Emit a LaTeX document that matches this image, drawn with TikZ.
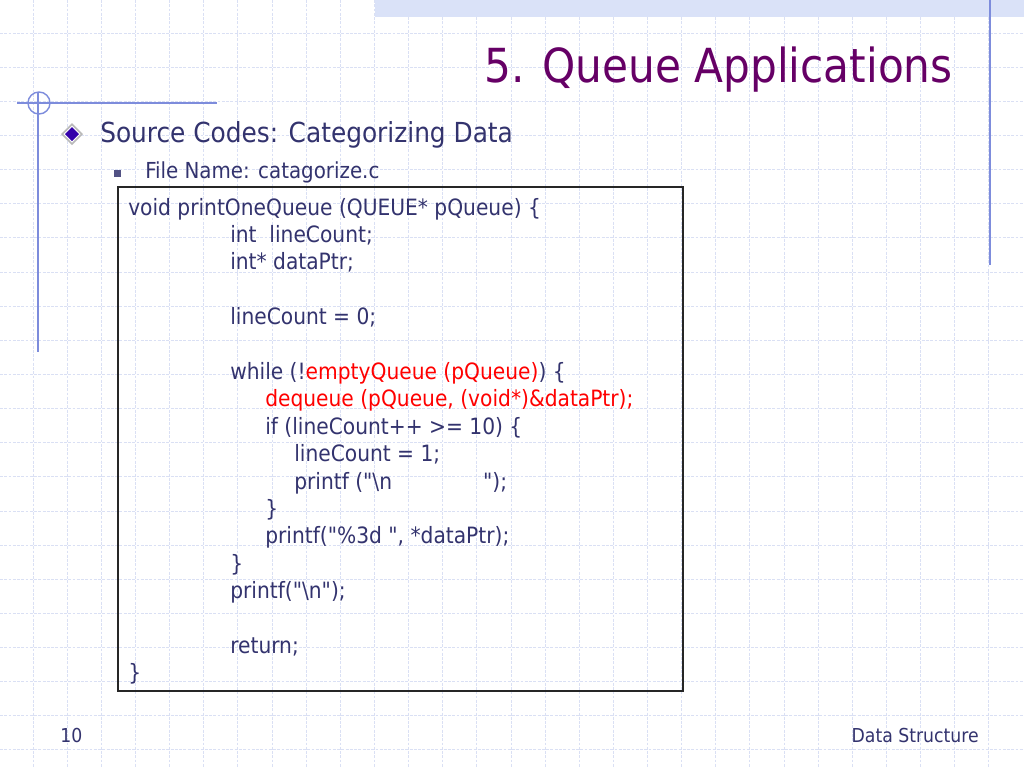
\documentclass[tikz,border=0pt]{standalone}
\usepackage{fontspec}
\setmainfont{DejaVu Sans Condensed}[Ligatures=TeXOff]
\definecolor{navy}{RGB}{51,51,110}
\definecolor{titlepurple}{RGB}{102,0,102}
\definecolor{gridblue}{RGB}{218,224,244}
\definecolor{barblue}{RGB}{218,226,248}
\definecolor{rulerblue}{RGB}{125,140,220}
\definecolor{diamondblue}{RGB}{51,0,170}
\newcommand{\dq}{\char34\relax}
\begin{document}
\begin{tikzpicture}[x=0.703pt, y=-0.703pt,
    every node/.style={inner sep=0pt, text=navy},
    code/.style={anchor=base west, font=\fontsize{15.8}{19}\selectfont},
    ruler/.style={draw=rulerblue, line width=1pt}]
    \useasboundingbox (0,0) rectangle (1024,768);
    \fill[white] (0,0) rectangle (1024,768);
    % grid
    \foreach \i in {1,...,29}
        \draw[gridblue, line width=0.6pt, dash pattern=on 2pt off 1pt] ({\i*34.13-1}, 0) -- ({\i*34.13-1}, 768);
    \foreach \j in {1,...,22}
        \draw[gridblue, line width=0.6pt, dash pattern=on 2pt off 1pt] (0, {\j*34.13-1}) -- (1024, {\j*34.13-1});
    % frame decoration
    \fill[barblue] (375, 0) rectangle (1024, 17);
    \draw[ruler] (990, 0) -- (990, 265);
    \draw[ruler] (17, 103) -- (217, 103);
    \draw[ruler] (38, 92) -- (38, 352);
    \draw[ruler] (39, 103) circle (11);
    % title and bullets
    \node[anchor=base east, text=titlepurple, font=\fontsize{33}{40}\selectfont] (title) at (953, 82) {5. Queue Applications};
    \fill[gray!55] (72, 123) -- (83, 134) -- (72, 145) -- (61, 134) -- cycle;
    \fill[white] (72, 125.5) -- (80.5, 134) -- (72, 142.5) -- (63.5, 134) -- cycle;
    \fill[diamondblue] (72, 127) -- (79, 134) -- (72, 141) -- (65, 134) -- cycle;
    \node[anchor=base west, font=\fontsize{19.4}{23}\selectfont] (topic) at (100, 142) {Source Codes: Categorizing Data};
    \fill[navy!85] (114, 170) rectangle (121, 177);
    \node[anchor=base west, font=\fontsize{15.5}{19}\selectfont] (file) at (145, 178) {File Name: catagorize.c};
    % code box
    \draw[black!85, line width=0.8pt] (118, 187) rectangle (683, 691);
    \node[code] (l0) at (128, 215) {void printOneQueue (QUEUE* pQueue) \{};
    \node[code] (l1) at (230, 242.4) {int\ \ lineCount;};
    \node[code] (l2) at (230, 269.8) {int* dataPtr;};
    \node[code] (l4) at (230, 324.6) {lineCount = 0;};
    \node[code] (l6) at (230, 379.4) {while (!\textcolor{red}{emptyQueue (pQueue)}) \{};
    \node[code, text=red] (l7) at (265, 406.8) {dequeue (pQueue, (void*)\&dataPtr);};
    \node[code] (l8) at (265, 434.2) {if (lineCount++ >= 10) \{};
    \node[code] (l9) at (294, 461.6) {lineCount = 1;};
    \node[code] (l10) at (294, 489) {printf (\dq\textbackslash n\hspace{64pt}\dq);};
    \node[code] (l11) at (265, 516.4) {\}};
    \node[code] (l12) at (265, 543.8) {printf(\dq\%3d \dq, *dataPtr);};
    \node[code] (l13) at (230, 571.2) {\}};
    \node[code] (l14) at (230, 598.6) {printf(\dq\textbackslash n\dq);};
    \node[code] (l16) at (230, 653.4) {return;};
    \node[code] (l17) at (128, 680.8) {\}};
    % footer
    \node[anchor=base west, font=\fontsize{13.5}{16}\selectfont] (page) at (60, 742) {10};
    \node[anchor=base east, font=\fontsize{13.5}{16}\selectfont] (course) at (979, 742) {Data Structure};
\end{tikzpicture}
\end{document}
